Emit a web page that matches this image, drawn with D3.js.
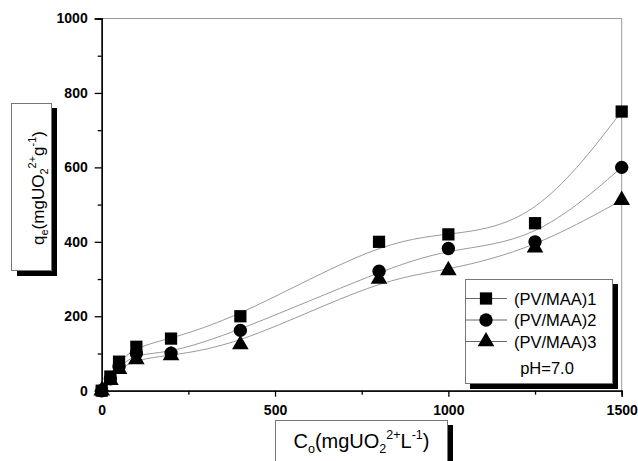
<!DOCTYPE html>
<html>
<head>
<meta charset="utf-8">
<script src="https://cdn.jsdelivr.net/npm/d3@7"></script>
<style>
  body { margin: 0; background: #fff; }
  svg { font-family: "Liberation Sans", Arial, sans-serif; }
</style>
</head>
<body>
<svg id="chart"></svg>
<script>
// concentrations (x) and uptake for each sample
var conc = [0, 25, 50, 100, 200, 400, 800, 1000, 1250, 1500];
var pvmaa1 = [0, 38, 78, 118, 140, 200, 400, 420, 450, 750];
var pvmaa2 = [0, 32, 65, 100, 101, 162, 321, 382, 400, 600];
var pvmaa3 = [0, 28, 58, 84, 95, 124, 300, 323, 384, 512];
var seriesNames = ["(PV/MAA)1", "(PV/MAA)2", "(PV/MAA)3"];
var yTicks = [0, 200, 400, 600, 800, 1000];
var xTicks = [0, 500, 1000, 1500];

var width = 638, height = 461;
var svg = d3.select("#chart").attr("width", width).attr("height", height);

// set the ranges
var x = d3.scaleLinear().domain([0, 1500]).range([101.7, 621.7]);
var y = d3.scaleLinear().domain([0, 1000]).range([390.7, 18.5]);

// top and right frame (grey)
svg.append("path")
   .attr("d", "M" + x(0) + "," + y(1000) + "H" + x(1500) + "V" + y(0))
   .attr("style", "fill: none; stroke: #999; stroke-width: 1");

// fitted curves
var curve = d3.line()
    .curve(d3.curveBasis)
    .x(function(d, i) { return x(conc[i]); })
    .y(function(d) { return y(d); });

[pvmaa1, pvmaa2, pvmaa3].forEach(function(s) {
    svg.append("path")
       .datum(s)
       .attr("d", curve)
       .attr("style", "fill: none; stroke: #9a9a9a; stroke-width: 1");
});

// axes
var fmt = d3.format("d");
var yAxis = d3.axisLeft(y).tickValues(yTicks).tickSize(7).tickPadding(7).tickFormat(fmt);
var yMinor = d3.axisLeft(y).tickValues([100, 300, 500, 700, 900]).tickSize(4).tickFormat("");
var xAxis = d3.axisBottom(x).tickValues(xTicks).tickSize(6).tickPadding(8).tickFormat(fmt);
var xMinor = d3.axisBottom(x).tickValues([250, 750, 1250]).tickSize(4).tickFormat("");

function styleAxis(g) {
    g.select(".domain").attr("stroke", "#000").attr("stroke-width", 1.3);
    g.selectAll(".tick line").attr("stroke", "#000").attr("stroke-width", 1.3);
    g.selectAll(".tick text")
     .attr("fill", "#000")
     .style("font-family", "'Liberation Sans', Arial, sans-serif")
     .style("font-size", "14px")
     .style("font-weight", "bold");
}

svg.append("g").attr("transform", "translate(" + x(0) + ",0)").call(yAxis).call(styleAxis);
svg.append("g").attr("transform", "translate(" + x(0) + ",0)").call(yMinor).call(styleAxis);
svg.append("g").attr("transform", "translate(0," + y(0) + ")").call(xAxis).call(styleAxis);
svg.append("g").attr("transform", "translate(0," + y(0) + ")").call(xMinor).call(styleAxis);

// markers
var symbols = [d3.symbolSquare, d3.symbolCircle, d3.symbolTriangle];
var sizes = [150, 140, 120];
var data = [pvmaa1, pvmaa2, pvmaa3];

for (var s = 2; s >= 0; s--) {
    svg.selectAll(".dot" + s)
       .data(data[s])
       .enter().append("path")
       .attr("class", "dot" + s)
       .attr("d", d3.symbol().type(symbols[s]).size(sizes[s]))
       .attr("transform", function(d, i) {
           return "translate(" + x(conc[i]) + "," + y(d) + ")";
       })
       .attr("fill", "#000");
}

// legend box with shadow
var lg = svg.append("g");
lg.append("rect").attr("x", 470).attr("y", 284).attr("width", 148).attr("height", 105).attr("fill", "#000");
lg.append("rect").attr("x", 465.5).attr("y", 279.5).attr("width", 147).attr("height", 104)
  .attr("fill", "#fff").attr("stroke", "#777").attr("stroke-width", 1);

var legendY = [298.5, 320, 341.5];
seriesNames.forEach(function(name, i) {
    lg.append("line")
      .attr("x1", 466).attr("x2", 507)
      .attr("y1", legendY[i]).attr("y2", legendY[i])
      .attr("style", "stroke: #666; stroke-width: 1");
    lg.append("path")
      .attr("d", d3.symbol().type(symbols[i]).size(sizes[i])())
      .attr("transform", "translate(486," + legendY[i] + ")")
      .attr("fill", "#000");
    lg.append("text")
      .attr("x", 514).attr("y", legendY[i] + 6)
      .style("font-size", "16.5px")
      .text(name);
});
lg.append("text")
  .attr("x", 547).attr("y", 373.5)
  .attr("text-anchor", "middle")
  .style("font-size", "16.5px")
  .text("pH=7.0");

// x axis title box
var xb = svg.append("g");
xb.append("rect").attr("x", 280).attr("y", 425).attr("width", 173).attr("height", 40).attr("fill", "#000");
xb.append("rect").attr("x", 275.5).attr("y", 420.5).attr("width", 172).attr("height", 42)
  .attr("fill", "#fff").attr("stroke", "#777").attr("stroke-width", 1);
var xt = xb.append("text").attr("x", 361.5).attr("y", 448).attr("text-anchor", "middle").style("font-size", "20px");
xt.append("tspan").text("C");
xt.append("tspan").attr("dy", 5).style("font-size", "12.5px").text("o");
xt.append("tspan").attr("dy", -5).text("(mgUO");
xt.append("tspan").attr("dy", 5).style("font-size", "12.5px").text("2");
xt.append("tspan").attr("dy", -14).style("font-size", "12.5px").text("2+");
xt.append("tspan").attr("dy", 9).text("L");
xt.append("tspan").attr("dy", -9).style("font-size", "12.5px").text("-1");
xt.append("tspan").attr("dy", 9).text(")");

// y axis title box
var yb = svg.append("g");
yb.append("rect").attr("x", 17).attr("y", 108).attr("width", 40).attr("height", 168).attr("fill", "#000");
yb.append("rect").attr("x", 11.5).attr("y", 103.5).attr("width", 40).attr("height", 167)
  .attr("fill", "#fff").attr("stroke", "#777").attr("stroke-width", 1);
var yt = yb.append("text")
  .attr("transform", "translate(44,188) rotate(-90)")
  .attr("text-anchor", "middle")
  .style("font-size", "17px");
yt.append("tspan").text("q");
yt.append("tspan").attr("dy", 4).style("font-size", "11px").text("e");
yt.append("tspan").attr("dy", -4).text("(mgUO");
yt.append("tspan").attr("dy", 4).style("font-size", "11px").text("2");
yt.append("tspan").attr("dy", -12).style("font-size", "11px").text("2+");
yt.append("tspan").attr("dy", 8).text("g");
yt.append("tspan").attr("dy", -8).style("font-size", "11px").text("-1");
yt.append("tspan").attr("dy", 8).text(")");
</script>
</body>
</html>
